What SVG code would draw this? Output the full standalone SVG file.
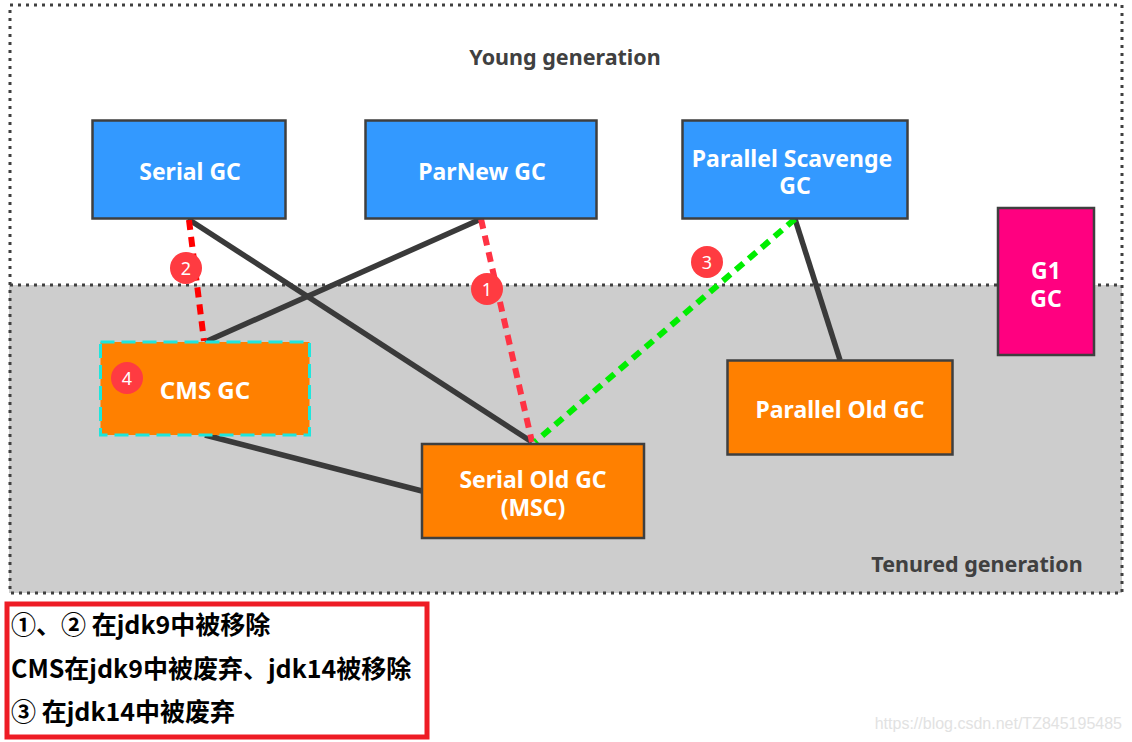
<svg xmlns="http://www.w3.org/2000/svg" width="1132" height="742" viewBox="0 0 1132 742">
<style>
  text { font-family: "Noto Sans", "Open Sans", "Noto Sans CJK SC", sans-serif; font-weight: 700; }
  .node { stroke: #3f3f3f; stroke-width: 2.5; }
  .blue { fill: #3399ff; }
  .orange { fill: #ff8000; }
  .label { fill: #fff; font-size: 23px; text-anchor: middle; }
  .region { fill: #404040; font-size: 21.5px; text-anchor: middle; }
  .solid { stroke: #3a3a3a; stroke-width: 5.5; fill: none; }
  .red { stroke: #ff0000; stroke-width: 6; stroke-dasharray: 10 7; fill: none; }
  .pink { stroke: #ff3344; stroke-width: 6; stroke-dasharray: 10 7; fill: none; }
  .green { stroke: #00ee00; stroke-width: 6; stroke-dasharray: 10 7; fill: none; }
  .badge { fill: #ff3b41; }
  .badge-text { fill: #fff; font-size: 18px; font-weight: 400; text-anchor: middle; }
  .note { fill: #000; font-size: 25px; font-family: "Noto Sans CJK SC", "Noto Sans", sans-serif; }
  .dotted { fill: none; stroke: #404040; stroke-width: 3; stroke-dasharray: 3 5; }
</style>

<rect width="1132" height="742" fill="#fff"/>

<g id="regions">
  <rect x="9" y="285" width="1113" height="308" fill="#cdcdcd"/>
  <rect class="dotted" x="10" y="5" width="1112" height="588"/>
  <line class="dotted" x1="10" y1="285" x2="1122" y2="285"/>
  <text class="region" x="565" y="65">Young generation</text>
  <text class="region" x="977" y="572">Tenured generation</text>
</g>

<g id="connectors">
  <line class="solid" x1="188" y1="219" x2="532" y2="442"/>
  <line class="solid" x1="481" y1="219" x2="205" y2="342"/>
  <line class="solid" x1="205" y1="435" x2="422" y2="491"/>
  <line class="solid" x1="795" y1="219" x2="840" y2="360"/>
  <line class="red" x1="189" y1="220" x2="204" y2="341"/>
  <line class="pink" x1="481" y1="219" x2="532" y2="442"/>
  <line class="green" x1="795" y1="219" x2="535" y2="442"/>
</g>

<g id="serial-gc">
  <rect class="node blue" x="92.500" y="120.500" width="193" height="98"/>
  <text class="label" x="190" y="180">Serial GC</text>
</g>
<g id="parnew-gc">
  <rect class="node blue" x="365.500" y="120.500" width="231" height="98"/>
  <text class="label" x="482" y="180">ParNew GC</text>
</g>
<g id="parallel-scavenge-gc">
  <rect class="node blue" x="682.500" y="120.500" width="225" height="98"/>
  <text class="label"><tspan x="792" y="167">Parallel Scavenge</tspan><tspan x="795" y="194">GC</tspan></text>
</g>
<g id="g1-gc">
  <rect class="node" x="998" y="208" width="96" height="147" fill="#ff0080"/>
  <text class="label"><tspan x="1046" y="279">G1</tspan><tspan x="1046" y="307">GC</tspan></text>
</g>
<g id="cms-gc">
  <rect x="100.500" y="342" width="209" height="93" fill="#ff8000" stroke="#1ee6dc" stroke-width="3" stroke-dasharray="14 7"/>
  <text class="label" x="205" y="399" style="font-size:24px">CMS GC</text>
</g>
<g id="parallel-old-gc">
  <rect class="node orange" x="727.500" y="360.500" width="225" height="94"/>
  <text class="label" x="840" y="418">Parallel Old GC</text>
</g>
<g id="serial-old-gc">
  <rect class="node orange" x="422" y="444" width="222" height="94"/>
  <text class="label"><tspan x="533" y="488">Serial Old GC</tspan><tspan x="533" y="516">(MSC)</tspan></text>
</g>

<g id="badges">
  <circle class="badge" cx="487" cy="289" r="16"/>
  <text class="badge-text" x="487" y="295.500">1</text>
  <circle class="badge" cx="186" cy="268" r="16"/>
  <text class="badge-text" x="186" y="274.500">2</text>
  <circle class="badge" cx="707" cy="262" r="16"/>
  <text class="badge-text" x="707" y="268.500">3</text>
  <circle class="badge" cx="127" cy="378" r="16"/>
  <text class="badge-text" x="127" y="384.500">4</text>
</g>

<g id="notes">
  <rect x="7" y="604" width="420" height="133" fill="#fff" stroke="#ee1c25" stroke-width="5"/>
  <text class="note" x="11" y="634">①、② 在jdk9中被移除</text>
  <text class="note" x="11" y="678">CMS在jdk9中被废弃、jdk14被移除</text>
  <text class="note" x="11" y="721">③ 在jdk14中被废弃</text>
</g>

<text x="1122" y="729" text-anchor="end" style="font-family:'Liberation Sans',sans-serif;font-weight:400;font-size:16px;fill:#e2e2e2">https://blog.csdn.net/TZ845195485</text>
</svg>
